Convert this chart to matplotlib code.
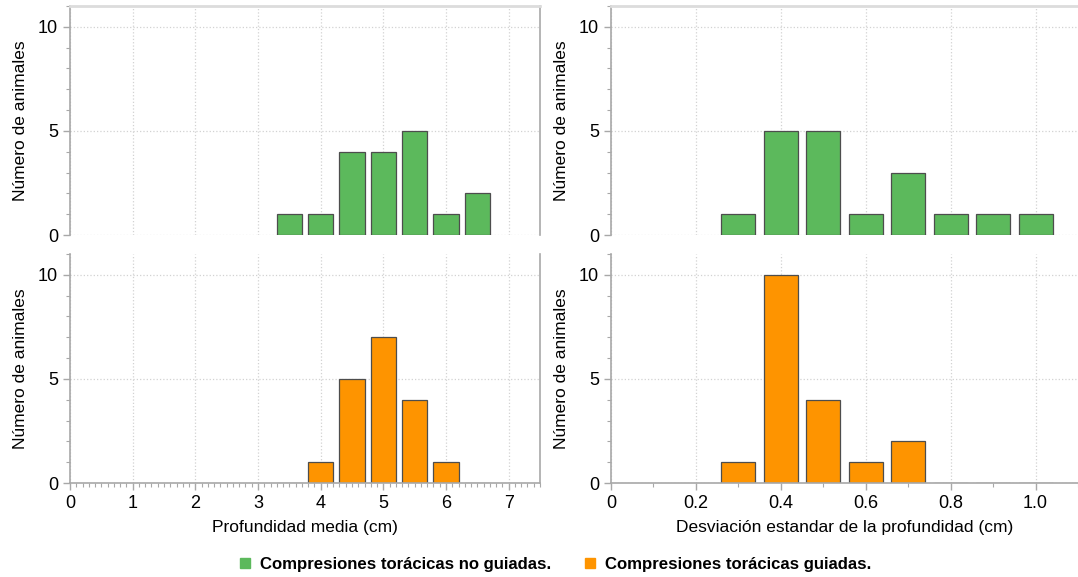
import matplotlib.pyplot as plt
from matplotlib.ticker import MultipleLocator
from matplotlib.lines import Line2D

plt.rcParams["font.family"] = ["Liberation Sans", "DejaVu Sans"]

# Histogram counts (bin centres and number of animals)
media_bins = [3.5, 4.0, 4.5, 5.0, 5.5, 6.0, 6.5]
media_no_guiadas = [1, 1, 4, 4, 5, 1, 2]
media_guiadas = [0, 1, 5, 7, 4, 1, 0]

desv_bins = [0.3, 0.4, 0.5, 0.6, 0.7, 0.8, 0.9, 1.0]
desv_no_guiadas = [1, 5, 5, 1, 3, 1, 1, 1]
desv_guiadas = [1, 10, 4, 1, 2, 0, 0, 0]

green = "#5cb95c"
orange = "#fe9400"
edge = "#4d4d4d"
spine_col = "#a8a8a8"

fig = plt.figure(figsize=(10.78, 5.77), dpi=100)
W, H = 1078, 577


def box(x0, y0, x1, y1):
    return [x0 / W, 1 - y1 / H, (x1 - x0) / W, (y1 - y0) / H]


ax_tl = fig.add_axes(box(70, 6, 540, 235))
ax_bl = fig.add_axes(box(70, 254, 540, 483))
ax_tr = fig.add_axes(box(611, 6, 1078, 235))
ax_br = fig.add_axes(box(611, 254, 1078, 483))


def style(ax, xmax, xmajor, xminor, top, show_x):
    ax.set_xlim(0, xmax)
    ax.set_ylim(0, 11)
    ax.xaxis.set_major_locator(MultipleLocator(xmajor))
    ax.xaxis.set_minor_locator(MultipleLocator(xminor))
    ax.yaxis.set_major_locator(MultipleLocator(5))
    ax.yaxis.set_minor_locator(MultipleLocator(1))
    ax.grid(True, which="major", linestyle=":", color="#d2d2d2", linewidth=0.9)
    ax.set_axisbelow(True)
    for s in ax.spines.values():
        s.set_color(spine_col)
        s.set_linewidth(1.2)
    ax.spines["top"].set_visible(top)
    ax.spines["top"].set_color("#dcdcdc")
    ax.spines["top"].set_linewidth(2)
    ax.spines["bottom"].set_visible(show_x)
    ax.tick_params(which="major", length=5, color=spine_col, labelsize=13,
                   labelcolor="black", width=1)
    ax.tick_params(which="minor", length=3, color=spine_col, width=0.8)
    if not show_x:
        ax.tick_params(axis="x", which="both", bottom=False, labelbottom=False)
    ax.set_ylabel("Número de animales", fontsize=12.5, labelpad=7)


for ax in (ax_tl, ax_bl):
    style(ax, 7.5, 1, 0.1, ax is ax_tl, ax is ax_bl)
for ax in (ax_tr, ax_br):
    style(ax, 1.1, 0.2, 0.1, ax is ax_tr, ax is ax_br)
    ax.spines["right"].set_visible(False)

ax_tl.bar(media_bins, media_no_guiadas, width=0.4, color=green,
          edgecolor=edge, linewidth=0.9)
ax_bl.bar(media_bins, media_guiadas, width=0.4, color=orange,
          edgecolor=edge, linewidth=0.9)
ax_tr.bar(desv_bins, desv_no_guiadas, width=0.08, color=green,
          edgecolor=edge, linewidth=0.9)
ax_br.bar(desv_bins, desv_guiadas, width=0.08, color=orange,
          edgecolor=edge, linewidth=0.9)

ax_br.xaxis.set_major_formatter(plt.FuncFormatter(
    lambda v, p: "0" if abs(v) < 1e-9 else f"{v:.1f}"))

ax_bl.set_xlabel("Profundidad media (cm)", fontsize=12.5, labelpad=6)
ax_br.set_xlabel("Desviación estandar de la profundidad (cm)", fontsize=12.5,
                 labelpad=6)

handles = [
    Line2D([], [], marker="s", linestyle="none", markersize=7,
           markerfacecolor=green, markeredgecolor=green),
    Line2D([], [], marker="s", linestyle="none", markersize=7,
           markerfacecolor=orange, markeredgecolor=orange),
]
fig.legend(handles, ["Compresiones torácicas no guiadas.",
                     "Compresiones torácicas guiadas."],
           loc="center", bbox_to_anchor=(0.514, 1 - 564 / H), ncol=2,
           frameon=False, handlelength=1.0, handletextpad=0.4,
           columnspacing=1.8, prop={"weight": "bold", "size": 12.1})

fig.savefig("out.png", dpi=100)
